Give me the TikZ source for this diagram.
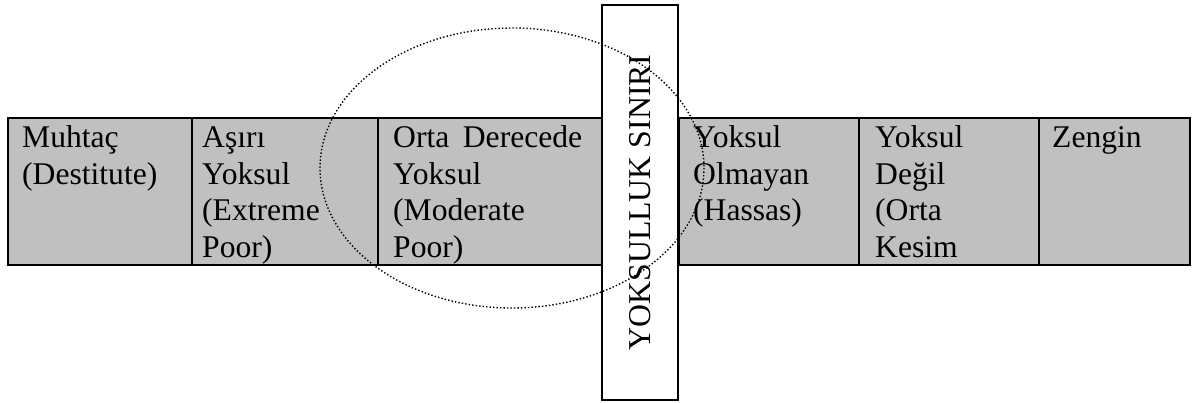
\documentclass[tikz,border=0pt]{standalone}
\usepackage{fontspec}
\setmainfont{Liberation Serif}
\begin{document}
\begin{tikzpicture}[x=1pt,y=-1pt,
  cell/.style={draw=black,line width=2pt,fill=cellgray,inner sep=0pt,anchor=north west,minimum height=147pt},
  celltext/.style={anchor=north west,inner sep=0pt,align=left,font={\fontsize{31.6pt}{36.8pt}\selectfont}},
  limitbox/.style={draw=black,line width=2pt,fill=white,inner sep=0pt,minimum width=76pt,minimum height=395pt},
  limittext/.style={rotate=90,inner sep=0pt,font={\fontsize{31.8pt}{36.8pt}\selectfont}},
  dotline/.style={line width=1.4pt,dash pattern=on 1.4pt off 2.1pt}]
\definecolor{cellgray}{RGB}{192,192,192}
\useasboundingbox (0,0) rectangle (1203,402);
% cells
\node[cell,minimum width=184pt] (c1) at (7,117) {};
\node[cell,minimum width=186pt] (c2) at (191,117) {};
\node[cell,minimum width=225pt] (c3) at (377,117) {};
\node[cell,minimum width=180pt] (c4) at (678,117) {};
\node[cell,minimum width=180pt] (c5) at (858,117) {};
\node[cell,minimum width=151pt] (c6) at (1038,117) {};
% poverty line box
\node[limitbox] (lim) at (640,202.5) {};
% texts
\node[celltext] (t1) at (22,121) {\rule{0pt}{26pt}Muhtaç\\(Destitute)};
\node[celltext] (t2) at (202,121) {\rule{0pt}{26pt}Aşırı\\Yoksul\\(Extreme\\Poor)};
\node[celltext] (t3) at (393,121) {\rule{0pt}{26pt}\makebox[189pt][s]{Orta Derecede}\\Yoksul\\(Moderate\\Poor)};
\node[celltext] (t4) at (693,121) {\rule{0pt}{26pt}Yoksul\\Olmayan\\(Hassas)};
\node[celltext] (t5) at (875,121) {\rule{0pt}{26pt}Yoksul\\Değil\\(Orta\\Kesim};
\node[celltext] (t6) at (1052,121) {\rule{0pt}{26pt}Zengin};
\node[limittext] (lt) at (lim.center) {YOKSULLUK SINIRI};
% ellipse
\coordinate (ec) at (512,168);
\draw[dotline] (ec) ellipse [x radius=192, y radius=140];
\end{tikzpicture}
\end{document}
